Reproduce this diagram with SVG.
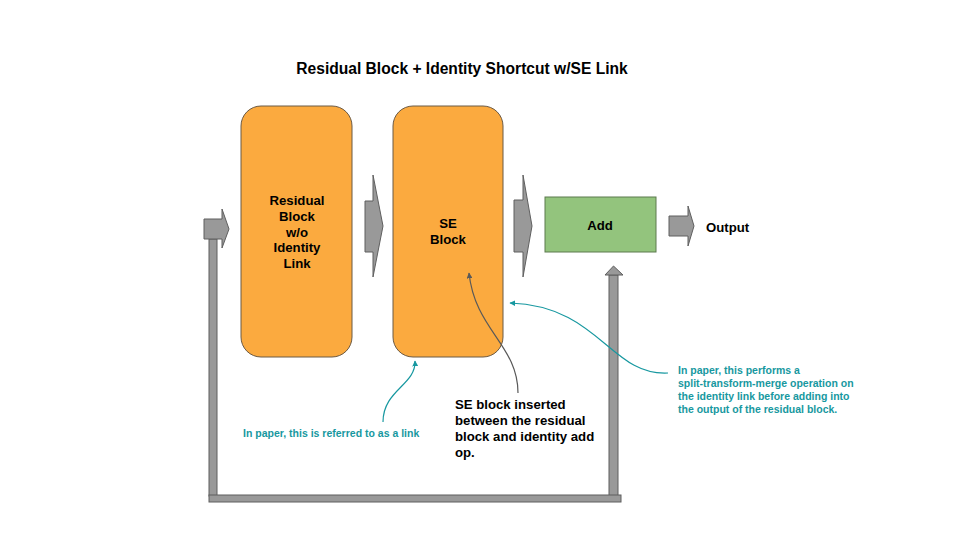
<svg xmlns="http://www.w3.org/2000/svg" width="960" height="540" viewBox="0 0 960 540">
<defs>
<style>
.block{fill:#fbaa3f;stroke:#6b5a45;stroke-width:1}
.add{fill:#93c47d;stroke:#5c7a4f;stroke-width:1}
.arr{fill:#999999;stroke:#5f5f5f;stroke-width:1}
.lbl{font-family:"Liberation Sans",Arial,sans-serif;font-weight:bold;font-size:13.2px;fill:#000}
.note{font-family:"Liberation Sans",Arial,sans-serif;font-weight:bold;font-size:10.5px;fill:#1798a0}
.title{font-family:"Liberation Sans",Arial,sans-serif;font-weight:bold;font-size:15.6px;fill:#000}
.tealc{fill:none;stroke:#1798a0;stroke-width:1.2}
.grayc{fill:none;stroke:#595959;stroke-width:1.2}
</style>
<marker id="mt" viewBox="0 0 10 10" refX="9" refY="5" markerWidth="6" markerHeight="6" orient="auto" markerUnits="userSpaceOnUse"><path d="M0,0 L10,5 L0,10 z" fill="#1798a0"/></marker>
<marker id="mg" viewBox="0 0 10 10" refX="9" refY="5" markerWidth="6" markerHeight="6" orient="auto" markerUnits="userSpaceOnUse"><path d="M0,0 L10,5 L0,10 z" fill="#595959"/></marker>
</defs>
<rect width="960" height="540" fill="#ffffff"/>
<text class="title" x="462" y="74" text-anchor="middle">Residual Block + Identity Shortcut w/SE Link</text>

<g id="residual-block">
<rect class="block" x="241" y="106" width="111" height="251" rx="20"/>
<text class="lbl" text-anchor="middle"><tspan x="297" y="205">Residual</tspan><tspan x="297" y="221">Block</tspan><tspan x="297" y="237">w/o</tspan><tspan x="297" y="252">Identity</tspan><tspan x="297" y="268">Link</tspan></text>
</g>
<g id="se-block">
<rect class="block" x="393" y="106" width="110" height="251" rx="20"/>
<text class="lbl" text-anchor="middle"><tspan x="448" y="228">SE</tspan><tspan x="448" y="244">Block</tspan></text>
</g>
<g id="add">
<rect class="add" x="545" y="197" width="111" height="55"/>
<text class="lbl" x="600" y="230" text-anchor="middle">Add</text>
</g>
<g id="output">
<text class="lbl" x="706" y="232">Output</text>
</g>

<g id="connectors">
<polygon class="arr" points="365,201 373,201 373,175 383,226 373,277 373,252 365,252"/>
<polygon class="arr" points="514,200 523,200 523,175 532,226 523,277 523,252 514,252"/>
<polygon class="arr" points="669,216 688,216 688,206 694,226 688,246 688,236 669,236"/>
<rect class="arr" x="209" y="239" width="8" height="257"/>
<rect class="arr" x="609" y="275" width="9" height="221"/>
<polygon class="arr" points="605,275 613.5,266 623,275"/>
<rect class="arr" x="209" y="495" width="412" height="7"/>
<polygon class="arr" points="204,219 222,219 222,209 229,229 222,248 222,239 204,239"/>
<path class="grayc" d="M518,393 C518,345 475,330 469,273" marker-end="url(#mg)"/>
<path class="tealc" d="M383,422 C383,390 416,385 415,361" marker-end="url(#mt)"/>
<path class="tealc" d="M668,373 C610,376 600,306 510,303" marker-end="url(#mt)"/>
</g>

<g id="notes">
<text class="lbl"><tspan x="455" y="409">SE block inserted</tspan><tspan x="455" y="425">between the residual</tspan><tspan x="455" y="441">block and identity add</tspan><tspan x="455" y="457">op.</tspan></text>
<text class="note" x="243" y="437">In paper, this is referred to as a link</text>
<text class="note"><tspan x="678" y="374">In paper, this performs a</tspan><tspan x="678" y="387">split-transform-merge operation on</tspan><tspan x="678" y="400">the identity link before adding into</tspan><tspan x="678" y="413">the output of the residual block.</tspan></text>
</g>
</svg>
